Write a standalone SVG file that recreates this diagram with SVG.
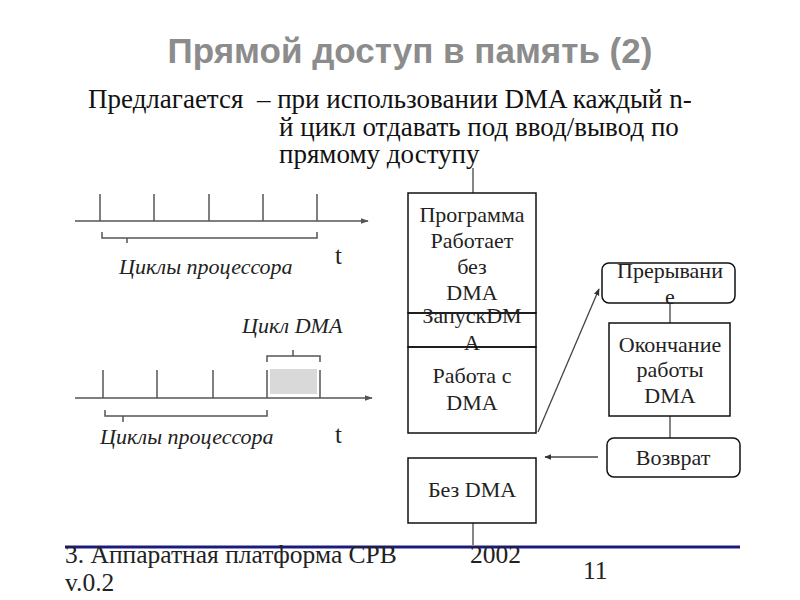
<svg xmlns="http://www.w3.org/2000/svg" width="800" height="600" viewBox="0 0 800 600">
<style>
.title{font-family:'Liberation Sans',Arial,sans-serif;font-weight:bold;font-size:35px;fill:#8c8c8c}
.body{font-family:'Liberation Serif','Times New Roman',serif;font-size:27px;fill:#111}
.bx{font-family:'Liberation Serif','Times New Roman',serif;font-size:22px;fill:#222;text-anchor:middle}
.it{font-family:'Liberation Serif','Times New Roman',serif;font-style:italic;font-size:22px;fill:#222}
.t{font-family:'Liberation Serif','Times New Roman',serif;font-size:25px;fill:#222}
.foot{font-family:'Liberation Serif','Times New Roman',serif;font-size:25.5px;fill:#222}
.box{fill:#fff;stroke:#111;stroke-width:1.5}
.tl{stroke:#555;stroke-width:1.5;fill:none}
.con{stroke:#444;stroke-width:1.3;fill:none}
</style>
<defs>
<marker id="ah" viewBox="0 0 10 10" refX="9" refY="5" markerWidth="7" markerHeight="7" orient="auto" markerUnits="userSpaceOnUse">
<path d="M0,1 L10,5 L0,9 Z" fill="#333"/>
</marker>
<marker id="ah2" viewBox="0 0 10 10" refX="9" refY="5" markerWidth="8" markerHeight="8" orient="auto" markerUnits="userSpaceOnUse">
<path d="M0,1.5 L10,5 L0,8.5 Z" fill="#555"/>
</marker>
</defs>
<rect width="800" height="600" fill="#fff"/>
<text class="title" x="410" y="63" text-anchor="middle">Прямой доступ в память (2)</text>
<g id="intro">
<text class="body" x="88" y="108" xml:space="preserve">Предлагается  – при использовании DMA каждый n-</text>
<text class="body" x="279" y="136">й цикл отдавать под ввод/вывод по</text>
<text class="body" x="279" y="163">прямому доступу</text>
</g>
<g id="timeline1">
<line class="tl" x1="75" y1="221" x2="368" y2="221" marker-end="url(#ah2)"/>
<path class="tl" d="M100,194V221M154,194V221M209,194V221M263,194V221M317,194V221"/>
<path class="tl" d="M102,232V238H317V232M127,238V243"/>
<text class="it" x="119" y="274">Циклы процессора</text>
<text class="t" x="335" y="264">t</text>
</g>
<g id="timeline2">
<rect x="270" y="369" width="47" height="25" fill="#d9d9d9"/>
<line class="tl" x1="75" y1="398" x2="372" y2="398" marker-end="url(#ah2)"/>
<path class="tl" d="M103,370V398M157,370V398M213,370V398M267,370V398M320,370V398"/>
<path class="tl" d="M267,362V356H320V362M293,356V350"/>
<path class="tl" d="M105,410V416H267V410M123,416V422"/>
<text class="it" x="242" y="333">Цикл DMA</text>
<text class="it" x="100" y="444">Циклы процессора</text>
<text class="t" x="335" y="443">t</text>
</g>
<g id="connectors">
<line class="con" x1="473" y1="193" x2="473" y2="168"/>
<line class="con" x1="670" y1="303" x2="670" y2="323"/>
<line class="con" x1="670" y1="416" x2="670" y2="438"/>
<line class="con" x1="473" y1="523" x2="473" y2="545"/>
<line class="con" x1="538" y1="432" x2="599" y2="289" marker-end="url(#ah)"/>
<line class="con" x1="598" y1="457" x2="545" y2="457" marker-end="url(#ah)"/>
</g>
<g id="program">
<rect class="box" x="408" y="193" width="128" height="120"/>
<text class="bx" x="472" y="222">Программа</text>
<text class="bx" x="472" y="248">Работает</text>
<text class="bx" x="472" y="274">без</text>
<text class="bx" x="472" y="300">DMA</text>
</g>
<g id="start-dma">
<rect class="box" x="408" y="313" width="128" height="34" style="fill:none"/>
<text class="bx" x="472" y="323">ЗапускDM</text>
<text class="bx" x="472" y="350">A</text>
</g>
<g id="work-dma">
<rect class="box" x="408" y="347" width="128" height="86" style="fill:none"/>
<text class="bx" x="472" y="383">Работа с</text>
<text class="bx" x="472" y="410">DMA</text>
</g>
<g id="no-dma">
<rect class="box" x="408" y="458" width="128" height="65"/>
<text class="bx" x="472" y="497">Без DMA</text>
</g>
<g id="interrupt">
<rect class="box" x="602" y="263" width="133" height="40" rx="7"/>
<text class="bx" x="670" y="278">Прерывани</text>
<text class="bx" x="670" y="304">е</text>
</g>
<g id="dma-end">
<rect class="box" x="609" y="323" width="121" height="93"/>
<text class="bx" x="670" y="352">Окончание</text>
<text class="bx" x="670" y="377">работы</text>
<text class="bx" x="670" y="403">DMA</text>
</g>
<g id="return">
<rect class="box" x="607" y="438" width="133" height="39" rx="7"/>
<text class="bx" x="673" y="465">Возврат</text>
</g>
<g id="footer">
<line x1="65" y1="547" x2="740" y2="547" stroke="#8f8fc8" stroke-width="4"/>
<line x1="65" y1="547" x2="740" y2="547" stroke="#1c1c78" stroke-width="2"/>
<text class="foot" x="65" y="563">3. Аппаратная платформа СРВ</text>
<text class="foot" x="470" y="563">2002</text>
<text class="foot" x="583" y="579">11</text>
<text class="foot" x="65" y="591">v.0.2</text>
</g>
</svg>
